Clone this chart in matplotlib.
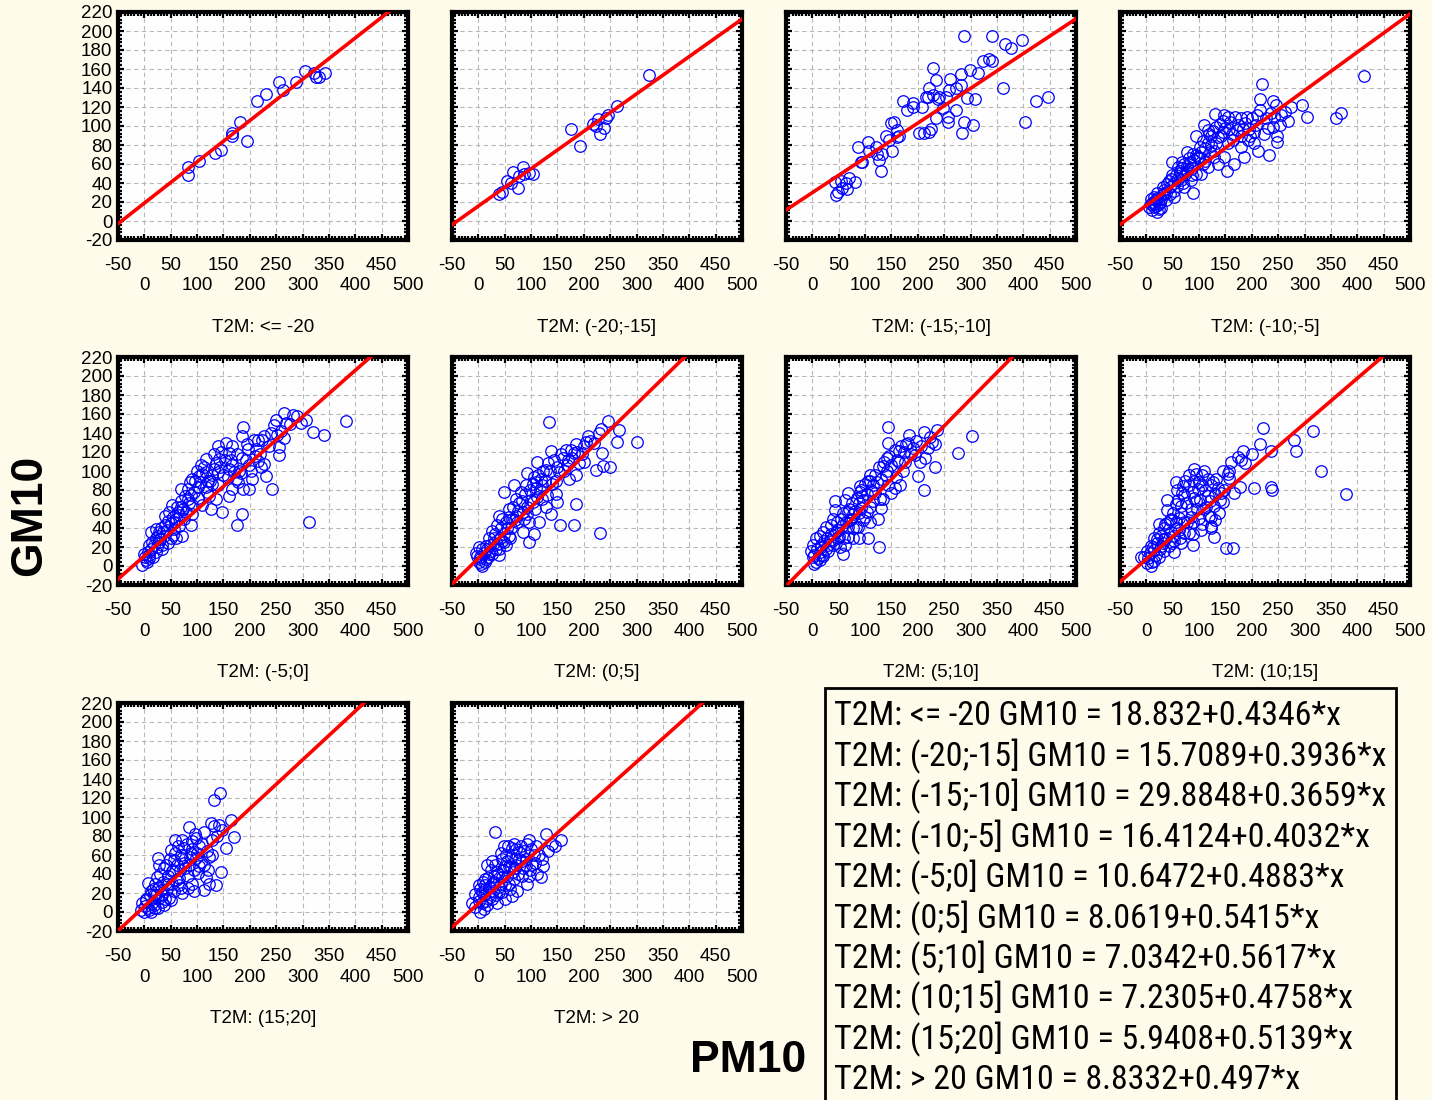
import numpy as np
import matplotlib
matplotlib.use('Agg')
import matplotlib.pyplot as plt
from matplotlib import font_manager
from matplotlib.ticker import MultipleLocator
from matplotlib.patches import Rectangle

# Klasy temperatury (T2M) i parametry prostych regresji GM10 = a + b*PM10
categories = ['T2M: <= -20', 'T2M: (-20;-15]', 'T2M: (-15;-10]', 'T2M: (-10;-5]',
              'T2M: (-5;0]', 'T2M: (0;5]', 'T2M: (5;10]', 'T2M: (10;15]',
              'T2M: (15;20]', 'T2M: > 20']
intercepts = [18.832, 15.7089, 29.8848, 16.4124, 10.6472, 8.0619, 7.0342, 7.2305, 5.9408, 8.8332]
slopes = [0.4346, 0.3936, 0.3659, 0.4032, 0.4883, 0.5415, 0.5617, 0.4758, 0.5139, 0.497]

# punkty (PM10, GM10)
p_le_m20 = [(82, 57), (82, 48), (104, 63), (134, 72), (145, 75), (167, 93), (167, 89),
            (182, 104), (194, 84), (214, 126), (231, 134), (256, 146), (262, 138),
            (288, 146), (305, 158), (322, 156), (326, 152), (332, 152), (343, 156)]

p_m20_m15 = [(39, 28), (44, 31), (55, 42), (66, 52), (76, 35), (84, 57), (87, 49), (96, 51),
             (104, 50), (61, 40), (77, 47), (176, 97), (193, 79), (218, 102), (227, 107),
             (230, 92), (239, 98), (242, 108), (246, 112), (262, 121), (324, 154), (223, 100)]

p_m15_m10 = [(44, 27), (49, 31), (57, 35), (63, 40), (69, 45), (81, 41), (43, 41), (55, 42),
             (66, 34), (92, 62), (87, 78), (106, 83), (120, 78), (123, 71), (130, 53), (133, 71),
             (139, 90), (151, 74), (149, 103), (155, 104), (161, 96), (165, 89), (171, 126),
             (180, 117), (190, 120), (208, 120), (203, 93), (212, 93), (222, 94), (225, 97),
             (219, 131), (228, 133), (234, 148), (229, 161), (238, 128), (241, 131), (234, 108),
             (247, 119), (257, 110), (257, 104), (261, 149), (273, 140), (273, 117), (282, 155),
             (282, 143), (284, 93), (288, 104), (293, 129), (299, 159), (304, 101), (309, 128),
             (314, 156), (288, 195), (323, 168), (335, 171), (341, 168), (340, 195), (361, 140),
             (366, 186), (377, 182), (398, 191), (404, 104), (425, 126), (446, 131), (222, 140),
             (215, 131), (254, 131), (260, 138), (107, 74), (126, 64), (95, 62), (146, 85),
             (161, 88), (190, 124)]

p_m10_m5 = [(413, 153), (370, 114), (359, 108), (305, 110), (295, 122), (274, 120), (269, 105),
            (253, 101), (248, 90), (248, 83), (240, 99), (232, 69), (219, 144), (216, 128),
            (215, 117), (240, 126), (246, 122), (256, 112), (212, 74), (205, 94), (208, 101),
            (191, 110), (180, 108), (179, 78), (167, 60), (153, 53), (173, 101), (157, 97),
            (148, 112), (130, 113), (132, 99), (110, 101), (94, 90), (132, 82), (120, 73),
            (148, 67), (135, 60), (104, 73), (88, 71), (78, 73), (67, 62), (49, 62), (60, 57),
            (88, 30), (85, 43), (78, 53), (66, 43), (49, 48), (40, 39), (31, 36), (21, 29),
            (15, 25), (8, 18), (5, 15), (15, 15), (24, 18), (37, 22), (53, 25), (59, 37),
            (72, 36), (107, 60), (116, 82), (123, 89), (142, 89), (154, 82), (164, 85),
            (192, 85), (195, 97), (224, 92), (104, 50), (94, 50), (116, 57), (63, 53), (34, 30),
            (28, 23), (18, 22), (24, 13), (8, 23), (43, 42), (53, 32), (97, 67), (72, 60),
            (81, 66), (129, 67), (145, 94), (116, 96), (154, 110), (180, 89), (205, 82), (186, 67),
            (10, 12), (12, 20), (18, 16), (20, 24), (26, 20), (30, 27), (33, 33), (38, 30),
            (44, 36), (47, 44), (52, 40), (56, 48), (60, 44), (64, 51), (68, 56), (74, 50),
            (77, 58), (82, 62), (86, 56), (90, 64), (95, 70), (100, 66), (102, 78), (108, 84),
            (112, 77), (118, 92), (122, 80), (126, 95), (135, 88), (140, 102), (146, 105),
            (150, 98), (158, 104), (162, 92), (168, 110), (172, 96), (183, 97), (188, 103),
            (196, 89), (200, 108), (210, 112), (226, 108), (230, 98), (236, 114), (243, 110),
            (262, 115), (112, 63), (128, 74), (86, 48), (70, 40), (45, 28), (28, 14), (20, 10),
            (14, 18)]

p_m5_0 = [(383, 153), (313, 46), (340, 138), (319, 141), (306, 154), (297, 151), (281, 159),
          (265, 161), (249, 154), (246, 148), (268, 151), (265, 135), (256, 125), (256, 117),
          (243, 81), (231, 95), (227, 107), (224, 133), (215, 133), (212, 123), (215, 111),
          (199, 106), (198, 81), (188, 81), (186, 55), (175, 43), (188, 146), (186, 137),
          (186, 114), (167, 126), (161, 119), (155, 130), (139, 126), (142, 113), (132, 102),
          (117, 99), (139, 99), (161, 102), (173, 92), (167, 81), (148, 57), (136, 71),
          (123, 74), (104, 95), (101, 83), (101, 72), (91, 92), (82, 81), (69, 81), (82, 71),
          (91, 64), (88, 43), (72, 32), (79, 57), (69, 62), (53, 64), (47, 57), (60, 50),
          (56, 39), (40, 43), (50, 29), (38, 32), (28, 36), (22, 29), (15, 25), (9, 22),
          (12, 36), (6, 15), (0, 13), (3, 6), (-4, 1), (9, 8), (22, 15), (34, 18), (28, 25),
          (107, 106), (117, 113), (120, 90), (110, 64), (126, 60), (139, 85), (161, 74),
          (180, 100), (205, 92), (196, 123), (208, 133), (227, 137), (167, 106), (129, 86),
          (117, 83), (88, 75), (63, 57), (40, 53), (22, 39), (60, 29),
          (2, 10), (5, 4), (8, 12), (12, 18), (16, 10), (18, 22), (24, 20), (26, 32), (30, 28),
          (32, 40), (36, 36), (42, 38), (44, 47), (50, 45), (54, 52), (58, 46), (62, 62),
          (66, 54), (70, 68), (74, 60), (78, 74), (84, 66), (86, 88), (94, 78), (96, 90),
          (100, 100), (106, 88), (110, 97), (114, 104), (118, 78), (124, 90), (128, 96),
          (132, 118), (136, 108), (144, 104), (146, 120), (150, 96), (152, 112), (158, 94),
          (164, 112), (170, 99), (176, 118), (178, 88), (184, 98), (192, 112), (194, 128),
          (202, 100), (210, 116), (220, 118), (222, 104), (236, 126), (240, 140), (252, 138),
          (260, 142), (276, 150), (290, 158), (44, 24), (54, 33), (66, 42), (34, 22), (90, 55),
          (76, 50)]

p_0_5 = [(134, 152), (230, 35), (300, 131), (246, 153), (266, 143), (262, 131), (235, 119),
         (223, 101), (250, 104), (236, 105), (233, 144), (208, 137), (204, 131), (201, 126),
         (185, 128), (182, 119), (175, 122), (191, 108), (186, 96), (185, 65), (182, 43),
         (155, 43), (138, 121), (160, 114), (169, 106), (153, 99), (128, 101), (112, 110),
         (106, 94), (121, 85), (112, 73), (138, 55), (147, 76), (128, 62), (115, 46), (106, 34),
         (96, 25), (96, 46), (84, 57), (80, 78), (68, 85), (49, 78), (71, 71), (58, 60),
         (64, 50), (52, 46), (39, 53), (36, 43), (26, 37), (29, 29), (41, 30), (52, 22),
         (58, 32), (20, 29), (14, 21), (7, 18), (1, 20), (-2, 11), (1, 4), (7, 0), (14, 7),
         (26, 13), (39, 18), (49, 25), (84, 36), (93, 55), (103, 67), (118, 92), (147, 89),
         (172, 92), (121, 71), (77, 66), (90, 85), (109, 82), (150, 67), (74, 46), (36, 23),
         (20, 13), (4, 7), (-5, 14), (93, 98), (71, 53), (45, 50),
         (3, 10), (5, 2), (10, 14), (12, 4), (16, 18), (18, 10), (22, 22), (24, 16), (30, 24),
         (32, 34), (34, 18), (42, 40), (44, 26), (48, 34), (55, 40), (58, 52), (62, 40),
         (66, 62), (70, 48), (76, 58), (82, 68), (86, 50), (88, 76), (92, 62), (98, 80),
         (100, 70), (104, 86), (110, 88), (114, 96), (116, 80), (122, 100), (126, 90),
         (132, 108), (136, 100), (140, 86), (144, 112), (150, 104), (156, 118), (162, 100),
         (166, 122), (170, 112), (178, 114), (188, 120), (196, 118), (200, 110), (212, 132),
         (220, 130), (228, 140), (108, 60), (130, 75), (60, 30), (40, 12)]

p_5_10 = [(143, 146), (303, 137), (276, 119), (212, 80), (233, 104), (201, 95), (214, 114),
          (205, 110), (219, 124), (227, 131), (237, 143), (211, 141), (184, 138), (191, 124),
          (178, 128), (165, 121), (164, 110), (143, 129), (142, 114), (134, 105), (142, 100),
          (159, 94), (167, 85), (150, 77), (134, 71), (109, 96), (106, 89), (95, 74), (90, 84),
          (68, 77), (88, 66), (115, 85), (128, 71), (131, 61), (125, 50), (109, 46), (103, 57),
          (78, 55), (68, 57), (42, 68), (42, 59), (55, 50), (68, 41), (83, 41), (106, 29),
          (127, 20), (89, 29), (68, 31), (49, 38), (36, 43), (26, 41), (20, 36), (14, 32),
          (7, 29), (1, 22), (-2, 16), (1, 9), (4, 2), (14, 6), (20, 11), (29, 16), (39, 22),
          (52, 20), (61, 22), (49, 29), (33, 27), (17, 22), (14, 15), (74, 50), (93, 61),
          (115, 68), (143, 85), (156, 82), (172, 100), (175, 110), (194, 117), (87, 41),
          (99, 52), (119, 77), (39, 50), (61, 70), (90, 78), (78, 29), (58, 13),
          (3, 12), (6, 4), (9, 18), (11, 8), (16, 20), (18, 12), (22, 26), (25, 18), (28, 30),
          (30, 22), (35, 34), (38, 26), (44, 36), (46, 46), (50, 32), (56, 42), (58, 56),
          (64, 46), (70, 60), (72, 48), (76, 66), (80, 58), (84, 72), (88, 56), (92, 80),
          (96, 70), (100, 86), (104, 76), (110, 90), (112, 80), (118, 96), (122, 88),
          (126, 104), (130, 92), (136, 110), (140, 96), (146, 116), (150, 106), (156, 122),
          (160, 112), (168, 126), (174, 120), (182, 130), (188, 118), (196, 132), (206, 126),
          (224, 136), (232, 128), (60, 30), (44, 24), (96, 48), (110, 62), (78, 40)]

p_10_15 = [(379, 76), (332, 100), (316, 142), (284, 121), (280, 133), (237, 121), (239, 80),
           (237, 83), (221, 145), (215, 128), (205, 82), (183, 121), (173, 115), (178, 83),
           (167, 77), (157, 100), (157, 93), (151, 19), (164, 19), (129, 31), (123, 42),
           (123, 52), (145, 67), (142, 77), (132, 92), (110, 100), (94, 97), (81, 85), (56, 88),
           (68, 77), (94, 68), (116, 74), (110, 60), (119, 53), (123, 40), (103, 38), (88, 22),
           (78, 46), (65, 63), (40, 59), (46, 49), (59, 40), (34, 40), (24, 35), (15, 30),
           (21, 24), (8, 21), (2, 16), (-4, 10), (2, 3), (8, 0), (15, 5), (24, 10), (34, 16),
           (43, 21), (53, 26), (65, 24), (72, 35), (88, 46), (100, 51), (27, 21), (15, 17),
           (-11, 10), (53, 15), (84, 60), (72, 75), (97, 81), (129, 63), (138, 56), (56, 65),
           (62, 51), (40, 45), (81, 35), (91, 72), (106, 85), (123, 85), (154, 97),
           (4, 8), (6, 14), (10, 4), (12, 20), (18, 12), (20, 28), (26, 18), (28, 32), (32, 24),
           (36, 44), (38, 30), (44, 48), (46, 36), (50, 56), (52, 32), (56, 46), (60, 70),
           (62, 38), (66, 56), (70, 84), (72, 46), (76, 66), (80, 96), (84, 52), (86, 78),
           (90, 90), (96, 60), (100, 88), (102, 70), (106, 96), (112, 80), (116, 92), (120, 68),
           (126, 88), (130, 76), (136, 82), (140, 70), (148, 80), (34, 28), (48, 24), (64, 30),
           (88, 34), (106, 44), (114, 62), (130, 48), (24, 44), (40, 70), (58, 80), (74, 90),
           (90, 102), (146, 100), (160, 110), (180, 112), (200, 118), (188, 108)]

p_15_20 = [(144, 125), (132, 118), (164, 97), (170, 79), (155, 67), (145, 42), (136, 28),
           (126, 94), (132, 91), (129, 76), (123, 29), (117, 37), (113, 23), (107, 53), (104, 69),
           (98, 78), (91, 75), (85, 89), (72, 76), (59, 76), (50, 65), (56, 55), (72, 57),
           (78, 46), (66, 36), (53, 43), (25, 57), (28, 50), (24, 37), (6, 31), (12, 22),
           (22, 18), (31, 23), (44, 30), (56, 22), (72, 20), (50, 13), (34, 11), (18, 7), (6, 4),
           (-4, 9), (-7, 2), (-1, 0), (12, 0), (25, 4), (37, 7), (47, 15), (91, 30), (101, 41),
           (113, 50), (123, 58), (88, 62), (75, 67), (41, 50), (85, 50), (98, 57), (69, 25),
           (82, 25), (94, 22), (18, 18), (3, 13),
           (2, 6), (4, 14), (8, 2), (10, 18), (14, 10), (16, 24), (20, 4), (20, 30), (26, 14),
           (28, 26), (30, 40), (34, 18), (36, 32), (38, 46), (42, 24), (44, 38), (48, 56),
           (52, 30), (54, 44), (58, 62), (60, 34), (62, 50), (64, 70), (68, 44), (70, 60),
           (76, 52), (80, 72), (82, 38), (86, 58), (90, 66), (94, 44), (96, 82), (100, 62),
           (104, 48), (110, 72), (114, 84), (118, 64), (120, 44), (128, 60), (138, 80),
           (142, 92), (148, 86), (66, 28), (40, 14)]

p_gt_20 = [(32, 84), (128, 82), (156, 76), (145, 70), (96, 76), (80, 70), (64, 67), (48, 70),
           (105, 60), (115, 60), (122, 48), (118, 37), (96, 38), (83, 54), (70, 56), (55, 54),
           (26, 54), (17, 49), (36, 42), (45, 37), (70, 46), (83, 38), (93, 30), (74, 22),
           (64, 17), (51, 14), (39, 21), (26, 30), (13, 24), (1, 28), (-6, 19), (1, 12), (-6, 5),
           (4, 0), (17, 7), (26, 14), (36, 10), (45, 21), (58, 30), (42, 30), (20, 21), (7, 21),
           (13, 35), (29, 38), (48, 47), (61, 47), (90, 49), (102, 49), (77, 63), (67, 35),
           (10, 3), (-12, 10),
           (2, 16), (4, 24), (6, 10), (8, 32), (10, 18), (12, 28), (14, 12), (18, 36), (20, 26),
           (22, 16), (24, 44), (28, 22), (30, 32), (32, 50), (34, 18), (38, 40), (40, 26),
           (44, 56), (46, 44), (50, 28), (52, 60), (54, 38), (58, 48), (60, 24), (62, 58),
           (66, 42), (68, 72), (72, 50), (76, 40), (78, 56), (84, 46), (86, 64), (90, 56),
           (92, 72), (98, 44), (100, 66), (108, 52), (110, 70), (112, 40), (120, 56), (132, 64),
           (140, 72), (56, 70), (72, 66), (42, 62)]

panels = [p_le_m20, p_m20_m15, p_m15_m10, p_m10_m5, p_m5_0,
          p_0_5, p_5_10, p_10_15, p_15_20, p_gt_20]

xticks = list(range(-50, 501, 50))
yticks = list(range(-20, 221, 20))
xticks_top = [t for t in xticks if t % 100]
xticks_low = [t for t in xticks if t % 100 == 0]

bg = '#fffbeb'
fig = plt.figure(figsize=(14.32, 11), dpi=100, facecolor=bg)

lefts = [118, 452, 786, 1120]
bottoms = [240, 585, 931]
W, H = 1432, 1100

for i, pts in enumerate(panels):
    r, c = divmod(i, 4)
    ax = fig.add_axes([lefts[c] / W, 1 - bottoms[r] / H, 290 / W, 228 / H])
    ax.set_facecolor('#fefefe')
    xs, ys = zip(*pts)
    ax.plot(xs, ys, linestyle='none', marker='o', mfc='none', mec='#0000ff', ms=8.3, mew=0.9, zorder=3)
    lx = np.linspace(-50, 500, 200)
    ax.plot(lx, intercepts[i] + slopes[i] * lx, color='#ff0000', lw=2.6, zorder=4)
    ax.set_xlim(-50, 500)
    ax.set_ylim(-20, 220)
    ax.set_xticks(xticks)
    ax.set_xticklabels([str(t) if t % 100 else '' for t in xticks],
                       fontsize=13.5, family='Liberation Sans')
    # druga linia opisów osi X (0, 100, 200 ...)
    sec = ax.secondary_xaxis('bottom')
    sec.set_xticks(xticks_low)
    sec.set_xticklabels([str(t) for t in xticks_low], fontsize=13.5, family='Liberation Sans')
    sec.tick_params(length=0, pad=27)
    sec.spines['bottom'].set_visible(False)
    ax.set_yticks(yticks)
    if c == 0:
        ax.set_yticklabels([str(t) for t in yticks], fontsize=13.5, family='Liberation Sans')
    else:
        ax.set_yticklabels([])
    ax.xaxis.set_minor_locator(MultipleLocator(6.25))
    ax.yaxis.set_minor_locator(MultipleLocator(4))
    ax.tick_params(which='both', direction='in', top=True, right=True, width=1.6, color='black')
    ax.tick_params(which='major', length=4)
    ax.tick_params(which='minor', length=3)
    ax.tick_params(axis='x', pad=12.5)
    ax.tick_params(axis='y', pad=4)
    ax.grid(True, which='major', linestyle=(0, (4, 3)), color='#b8b8b8', lw=0.8)
    ax.set_axisbelow(True)
    for sp in ax.spines.values():
        sp.set_linewidth(3)
    ax.text(0.5, -0.382, categories[i], transform=ax.transAxes, ha='center', va='center',
            fontsize=13.5, family='Liberation Sans')

fig.text(30 / W, 1 - 515 / H, 'GM10', rotation=90, ha='center', va='center',
         fontsize=32, fontweight='bold', family='Liberation Sans')
fig.text(748 / W, 1 - 1060 / H, 'PM10', ha='center', va='center',
         fontsize=32, fontweight='bold', family='Liberation Sans')

# ramka z równaniami
fig.patches.append(Rectangle((825 / W, -0.02), (1396 - 825) / W, 0.02 + (H - 688) / H,
                             transform=fig.transFigure, fill=False, lw=2, ec='black'))

# wąska czcionka jeśli jest dostępna, inaczej zwykła (dopasowana do szerokości ramki)
entries = font_manager.fontManager.ttflist
names = {f.name for f in entries}
stretch = 'normal'
if 'Liberation Sans Narrow' in names:
    fam = 'Liberation Sans Narrow'
elif 'Roboto Condensed' in names:
    fam = 'Roboto Condensed'
elif any(f.name == 'DejaVu Sans' and str(f.stretch) == 'condensed' for f in entries):
    fam, stretch = 'DejaVu Sans', 'condensed'
else:
    fam = 'Liberation Sans'

eq_texts = []
for k in range(len(categories)):
    eq = f'{categories[k]} GM10 = {intercepts[k]}+{slopes[k]}*x'
    t = fig.text(834 / W, 1 - (716 + 40.4 * k) / H, eq, ha='left', va='center', fontsize=26,
                 family=fam, stretch=stretch)
    eq_texts.append(t)

renderer = fig.canvas.get_renderer()
widest = max(t.get_window_extent(renderer).width for t in eq_texts)
size = min(26, 26 * 552 / widest)
for t in eq_texts:
    t.set_fontsize(size)

fig.savefig('out.png', dpi=100, facecolor=bg)
